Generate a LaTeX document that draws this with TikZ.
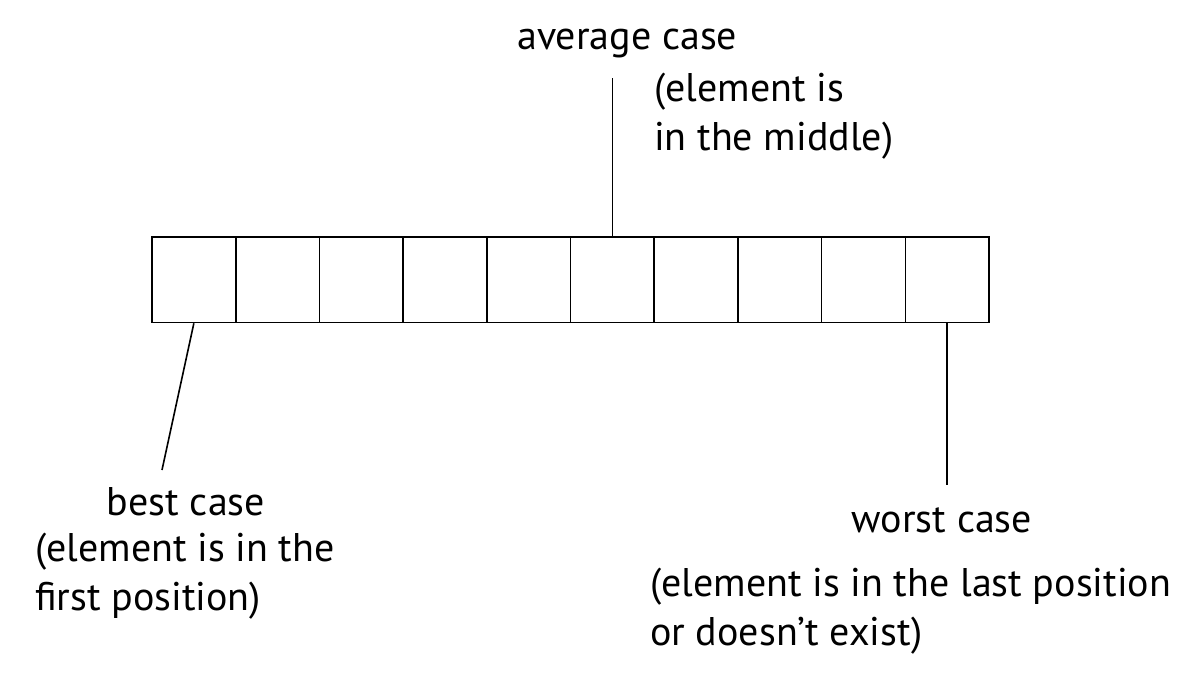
\documentclass[tikz,border=0pt]{standalone}
\usepackage{fontspec}
\setmainfont{PT Sans}
\usepackage{tikz}
\tikzset{
    cell/.style ={
        shape=rectangle,
        draw=black,
        line width=1.6pt,
        minimum width=83.7pt,
        minimum height=85.5pt,
        inner sep=0pt
    },
    label/.style ={
        inner sep=0pt,
        align=left,
        font=\fontsize{40}{48.5}\selectfont
    },
    pointer/.style ={
        draw=black,
        line width=1.6pt
    }
}

\begin{document}
\begin{tikzpicture}[x=1pt,y=-1pt]
    \useasboundingbox (0,0) rectangle (1191,674);
    \node[cell] (c1) at(193.85,279.75) {};
    \node[cell] (c2) at(277.55,279.75) {};
    \node[cell] (c3) at(361.25,279.75) {};
    \node[cell] (c4) at(444.95,279.75) {};
    \node[cell] (c5) at(528.65,279.75) {};
    \node[cell] (c6) at(612.35,279.75) {};
    \node[cell] (c7) at(696.05,279.75) {};
    \node[cell] (c8) at(779.75,279.75) {};
    \node[cell] (c9) at(863.45,279.75) {};
    \node[cell] (c10) at(947.15,279.75) {};
    \coordinate (avg) at(612.35,78);
    \coordinate (best) at(162,470);
    \coordinate (worst) at(947.15,485);
    \draw[pointer] (c6.north) -- (avg);
    \draw[pointer] (c1.south) -- (best);
    \draw[pointer] (c10.south) -- (worst);
    \node[label,anchor=base west] (avgcase) at(517,50) {average case};
    \node[label,anchor=base west] (avgnote) at(654,150) {(element is\\in the middle)};
    \node[label,anchor=base] (bestcase) at(186,515) {best case};
    \node[label,anchor=base west] (bestnote) at(35,610) {(element is in the\\first position)};
    \node[label,anchor=base] (worstcase) at(942,532) {worst case};
    \node[label,anchor=base west] (worstnote) at(650,645) {(element is in the last position\\or doesn’t exist)};
\end{tikzpicture}
\end{document}
